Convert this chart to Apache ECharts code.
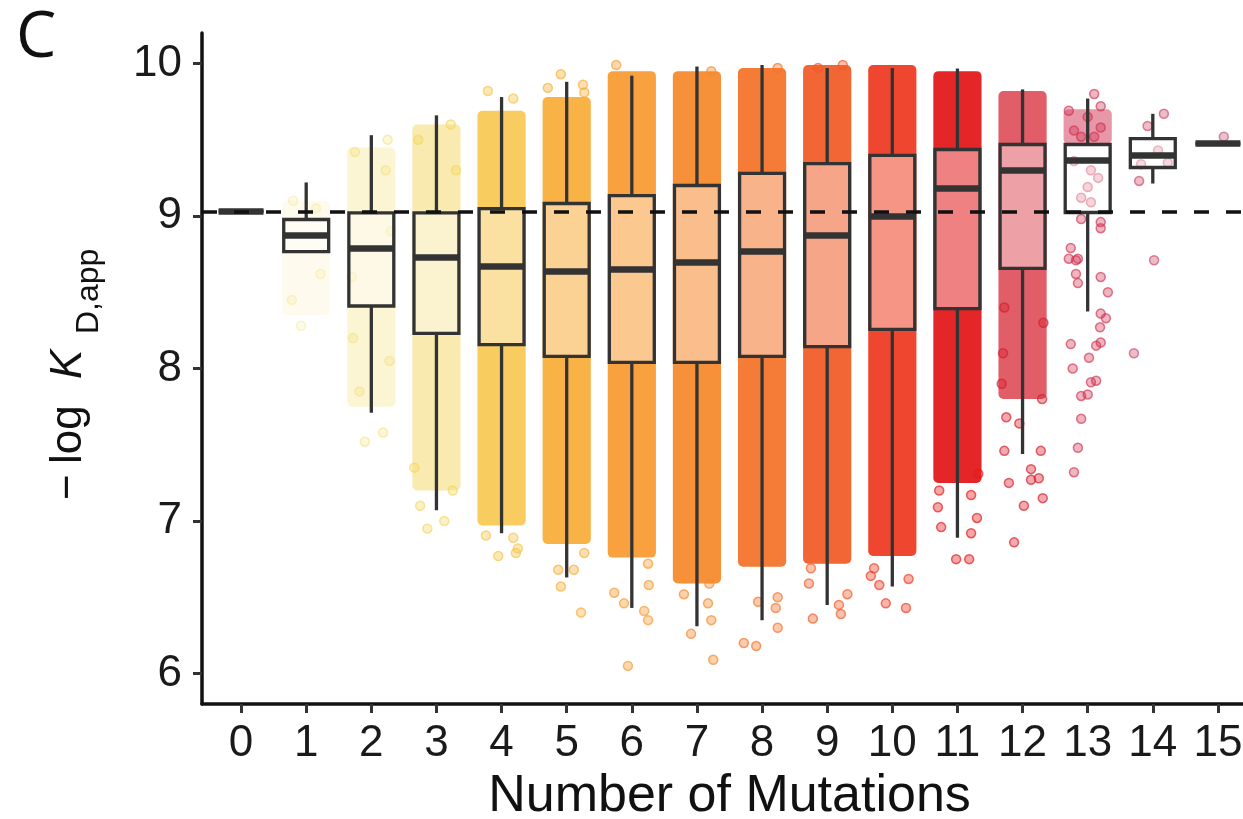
<!DOCTYPE html>
<html>
<head>
<meta charset="utf-8">
<title>-log KD,app by number of mutations</title>
<script src="https://cdn.jsdelivr.net/npm/echarts@6/dist/echarts.min.js"></script>
<style>
  html, body { margin: 0; padding: 0; background: #fff; }
  #main { width: 1243px; height: 819px; }
</style>
</head>
<body>
<div id="main"></div>
<script>
// number of mutations (x categories)
var mutations = [0, 1, 2, 3, 4, 5, 6, 7, 8, 9, 10, 11, 12, 13, 14, 15];

// box plot statistics
var q1          = [9.03, 8.767, 8.41, 8.23, 8.157, 8.079, 8.04, 8.04, 8.079, 8.144, 8.256, 8.393, 8.656, 9.023, 9.318, 9.475];
var median      = [9.03, 8.872, 8.787, 8.728, 8.669, 8.636, 8.649, 8.695, 8.767, 8.872, 8.997, 9.18, 9.298, 9.364, 9.397, 9.475];
var q3          = [9.03, 8.977, 9.02, 9.02, 9.049, 9.082, 9.134, 9.2, 9.279, 9.344, 9.397, 9.436, 9.469, 9.469, 9.508, 9.475];
var whiskerLow  = [9.03, 8.767, 7.71, 7.07, 6.92, 6.63, 6.43, 6.31, 6.35, 6.45, 6.57, 6.89, 7.44, 8.374, 9.213, 9.475];
var whiskerHigh = [9.03, 9.22, 9.53, 9.66, 9.78, 9.88, 9.92, 9.98, 9.99, 9.97, 9.97, 9.967, 9.83, 9.77, 9.67, 9.475];

// extent of the dense, overplotted part of each point cloud (null = no dense part)
var cloudLow  = [null, 8.35, 7.75, 7.2, 6.97, 6.85, 6.76, 6.59, 6.70, 6.72, 6.77, 7.25, 7.8, 9.47, null, null];
var cloudHigh = [null, 9.1, 9.45, 9.6, 9.69, 9.78, 9.95, 9.95, 9.97, 9.99, 9.99, 9.95, 9.82, 9.7, null, null];

// individual jittered points visible outside the dense clouds [x, -log KD]
var tailPoints = [
  [0.78, 8.45], [0.92, 8.28], [1.22, 8.62], [0.8, 9.1], [1.15, 9.05],
  [1.75, 9.42], [2.22, 9.3], [1.82, 7.85], [2.18, 7.58], [1.9, 7.52], [2.28, 8.05], [1.7, 8.6], [2.3, 8.9], [1.72, 8.2], [2.25, 9.5],
  [2.72, 9.5], [3.22, 9.6], [2.75, 7.1], [3.12, 7.0], [2.86, 6.95], [3.25, 7.2], [2.66, 7.35], [3.3, 9.3],
  [3.76, 6.905], [4.18, 6.89], [3.95, 6.77], [4.22, 6.79], [4.25, 6.82], [3.79, 9.82], [4.18, 9.77],
  [4.87, 6.68], [4.91, 6.57], [5.22, 6.40], [5.27, 6.79], [5.11, 6.68], [4.71, 9.84], [4.91, 9.93], [5.25, 9.86], [5.27, 9.81],
  [5.73, 6.53], [5.88, 6.46], [6.19, 6.41], [6.25, 6.35], [6.26, 6.58], [5.94, 6.05], [6.25, 6.72], [5.76, 9.99],
  [6.80, 6.52], [6.91, 6.26], [7.17, 6.46], [7.22, 6.35], [7.25, 6.09], [7.19, 6.59], [7.22, 9.95],
  [7.72, 6.20], [7.91, 6.18], [8.24, 6.30], [8.21, 6.43], [7.94, 6.47], [8.24, 6.50], [8.24, 9.97],
  [8.72, 6.59], [8.78, 6.36], [9.18, 6.45], [9.21, 6.39], [9.31, 6.52], [8.75, 6.69], [8.86, 9.97], [9.24, 9.99],
  [9.72, 6.69], [9.9, 6.46], [10.21, 6.43], [9.67, 6.64], [10.25, 6.62], [9.8, 6.58],
  [10.75, 6.96], [10.98, 6.75], [11.18, 6.75], [11.21, 6.92], [11.32, 7.31], [10.70, 7.09], [11.21, 7.17], [11.3, 7.02], [10.72, 7.2],
  [11.79, 7.25], [12.02, 7.10], [11.87, 6.86], [12.31, 7.15], [12.13, 7.27], [12.25, 7.28], [11.72, 7.46], [12.13, 7.34],
  [12.28, 7.46], [11.75, 7.68], [11.95, 7.64], [11.68, 7.9], [12.3, 7.8], [11.7, 8.1], [12.32, 8.3], [11.72, 8.4],
  [12.71, 8.72], [12.85, 8.72], [12.82, 8.62], [12.85, 8.56], [13.20, 8.60], [13.31, 8.50], [13.20, 8.36], [13.28, 8.33],
  [13.19, 8.27], [13.20, 8.17], [13.13, 8.15], [12.74, 8.16], [13.02, 8.07], [12.77, 8.00], [13.05, 7.91], [13.13, 7.92],
  [12.90, 7.82], [13.00, 7.83], [12.90, 7.67], [12.85, 7.48], [12.79, 7.32],
  [12.71, 9.69], [13.10, 9.80], [13.20, 9.72], [13.20, 9.58], [13.00, 9.65], [12.79, 9.56], [12.90, 9.52], [13.10, 9.52],
  [13.05, 9.30], [13.16, 9.25], [12.90, 9.12], [13.05, 9.09], [13.20, 8.96], [13.20, 8.92], [12.90, 8.98], [13.00, 9.19],
  [12.79, 9.36], [12.74, 8.79], [12.82, 8.71],
  [14.17, 9.67], [13.92, 9.59], [13.79, 9.23], [14.02, 8.71], [13.71, 8.10], [14.08, 9.43], [13.82, 9.34], [14.23, 9.35],
  [15.09, 9.52]
];

// wild-type reference level (dashed line)
var wildType = 9.025;

// styles
var cloudColors = ['#f7f0b0', '#f5e68a', '#f3df72', '#f4d660', '#f7c64c', '#f9ae3c', '#f89c34', '#f68a2e',
                   '#f4752b', '#f15d29', '#ee3d24', '#e41a1c', '#d6202e', '#cf3050', '#c94462', '#c45070'];
var cloudOpacity = [0, 0.15, 0.3, 0.5, 0.9, 0.95, 0.95, 0.95, 0.95, 0.95, 0.95, 0.95, 0.72, 0.5, 0, 0];
var pointOpacity = [0.3, 0.3, 0.4, 0.55, 0.6, 0.6, 0.6, 0.6, 0.6, 0.6, 0.6, 0.6, 0.6, 0.55, 0.55, 0.55];
var JITTER = 0.37;
var BOX_HALF = 0.345;
var AXIS_FONT = '"Liberation Sans", Arial, sans-serif';

function rgba(hex, a) {
  var n = parseInt(hex.slice(1), 16);
  return 'rgba(' + (n >> 16) + ',' + ((n >> 8) & 255) + ',' + (n & 255) + ',' + a + ')';
}

var cloudData = [];
mutations.forEach(function (m, i) {
  if (cloudLow[i] != null) cloudData.push([m, cloudLow[i], cloudHigh[i]]);
});

var pointData = tailPoints.map(function (p) {
  var c = Math.max(0, Math.min(15, Math.round(p[0])));
  return {
    value: p,
    itemStyle: {
      color: rgba(cloudColors[c], pointOpacity[c] * 0.8),
      borderColor: rgba(cloudColors[c], Math.min(1, pointOpacity[c] + 0.25)),
      borderWidth: 1.5
    }
  };
});

var boxData = mutations.map(function (m, i) {
  return [m, whiskerLow[i], q1[i], median[i], q3[i], whiskerHigh[i]];
});

var myChart = echarts.init(document.getElementById('main'));

var option = {
  backgroundColor: '#fff',
  animation: false,
  grid: { left: 202, top: 33, width: 1055, height: 671, containLabel: false, outerBoundsMode: 'none' },
  xAxis: {
    type: 'value',
    min: -0.6,
    max: 15.6,
    name: 'Number of Mutations',
    nameLocation: 'middle',
    nameGap: 58,
    nameTextStyle: { fontFamily: AXIS_FONT, fontSize: 52, color: '#111' },
    axisLine: { show: true, onZero: false, lineStyle: { color: '#111', width: 3.5 } },
    axisTick: { show: true, length: 9, lineStyle: { color: '#333', width: 3 }, customValues: mutations },
    axisLabel: { fontFamily: AXIS_FONT, fontSize: 44, color: '#1a1a1a', margin: 18, customValues: mutations },
    splitLine: { show: false }
  },
  yAxis: {
    type: 'value',
    min: 5.8,
    max: 10.2,
    axisLine: { show: true, onZero: false, lineStyle: { color: '#111', width: 3.5 } },
    axisTick: { show: true, length: 9, lineStyle: { color: '#333', width: 3 }, customValues: [6, 7, 8, 9, 10] },
    axisLabel: { fontFamily: AXIS_FONT, fontSize: 44, color: '#1a1a1a', margin: 20, customValues: [6, 7, 8, 9, 10] },
    splitLine: { show: false }
  },
  graphic: [
    {
      type: 'text', left: 16, top: 7,
      style: { text: 'C', font: '400 64px "Open Sans", sans-serif', fill: '#111' }
    },
    {
      type: 'group', x: 84, y: 500, rotation: Math.PI / 2,
      children: [
        { type: 'text', x: 0, y: 7, style: { text: '\u2212', font: '44px ' + AXIS_FONT, fill: '#111', verticalAlign: 'bottom' } },
        { type: 'text', x: 36, y: 7, style: { text: 'log', font: '44px ' + AXIS_FONT, fill: '#111', verticalAlign: 'bottom' } },
        { type: 'text', x: 121, y: 7, style: { text: 'K', font: 'italic 44px ' + AXIS_FONT, fill: '#111', verticalAlign: 'bottom' } },
        { type: 'text', x: 166, y: 21, style: { text: 'D,app', font: '32px ' + AXIS_FONT, fill: '#111', verticalAlign: 'bottom' } }
      ]
    }
  ],
  series: [
    {
      // dense point clouds
      type: 'custom',
      z: 1,
      clip: true,
      data: cloudData,
      renderItem: function (params, api) {
        var m = api.value(0);
        var p0 = api.coord([m - JITTER, api.value(2)]);
        var p1 = api.coord([m + JITTER, api.value(1)]);
        return {
          type: 'rect',
          shape: { x: p0[0], y: p0[1], width: p1[0] - p0[0], height: p1[1] - p0[1], r: 5 },
          style: { fill: rgba(cloudColors[m], cloudOpacity[m]) }
        };
      }
    },
    {
      // scattered individual points
      type: 'scatter',
      z: 2,
      symbol: 'circle',
      symbolSize: 9,
      data: pointData
    },
    {
      // box plots
      type: 'custom',
      z: 3,
      data: boxData,
      renderItem: function (params, api) {
        var m = api.value(0);
        var lo = api.value(1), b1 = api.value(2), md = api.value(3), b3 = api.value(4), hi = api.value(5);
        var c = api.coord([m, md]);
        var left = api.coord([m - BOX_HALF, b3]);
        var right = api.coord([m + BOX_HALF, b1]);
        var yLo = api.coord([m, lo])[1], yHi = api.coord([m, hi])[1];
        var lineStyle = { stroke: '#333', lineWidth: 3.3, fill: null };
        var children = [];
        if (hi > b3) children.push({ type: 'line', shape: { x1: c[0], y1: yHi, x2: c[0], y2: left[1] }, style: lineStyle });
        if (lo < b1) children.push({ type: 'line', shape: { x1: c[0], y1: right[1], x2: c[0], y2: yLo }, style: lineStyle });
        children.push({
          type: 'rect',
          shape: { x: left[0], y: left[1], width: right[0] - left[0], height: right[1] - left[1] },
          style: { fill: 'rgba(255,255,255,0.42)', stroke: '#333', lineWidth: 3.3 }
        });
        children.push({
          type: 'line',
          shape: { x1: left[0], y1: c[1], x2: right[0], y2: c[1] },
          style: { stroke: '#333', lineWidth: 6.5 }
        });
        return { type: 'group', children: children };
      },
      markLine: {
        silent: true,
        symbol: 'none',
        label: { show: false },
        lineStyle: { type: [15, 17], color: '#111', width: 3.5 },
        data: [{ yAxis: wildType }]
      }
    }
  ]
};

myChart.setOption(option);
</script>
</body>
</html>
